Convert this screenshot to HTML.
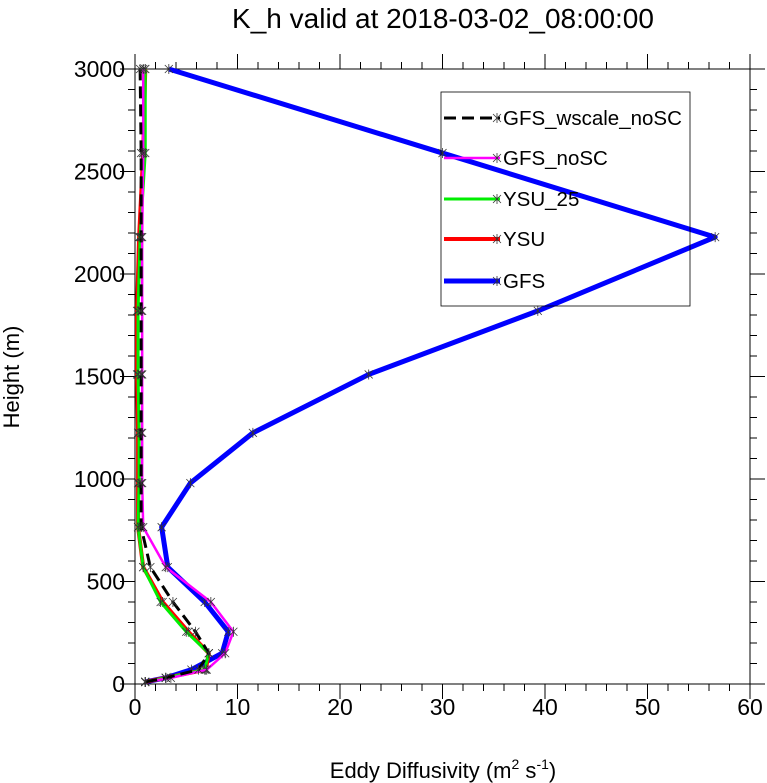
<!DOCTYPE html>
<html><head><meta charset="utf-8"><style>
html,body{margin:0;padding:0;background:#fff}
svg{display:block;font-family:"Liberation Sans",sans-serif}
</style></head><body>
<svg id="chart" width="767" height="783" viewBox="0 0 767 783">
<text x="443" y="28" font-size="28" text-anchor="middle">K_h valid at 2018-03-02_08:00:00</text>
<g id="axes"></g>
<g id="series"></g>
<text x="443" y="778" font-size="22" text-anchor="middle">Eddy Diffusivity (m<tspan font-size="14" dy="-9">2</tspan><tspan dy="9"> s</tspan><tspan font-size="14" dy="-9">-1</tspan><tspan dy="9">)</tspan></text>
<text transform="translate(19,377) rotate(-90)" font-size="22" text-anchor="middle">Height (m)</text>
<g id="legend"></g>
</svg>
<script>
const heights = [10, 30, 70, 150, 255, 400, 570, 765, 980, 1225, 1510, 1820, 2180, 2590, 3000];
const gfs = [1.0, 3.0, 5.5, 8.5, 9.1, 6.8, 3.2, 2.6, 5.4, 11.5, 22.8, 39.3, 56.6, 30.0, 3.3];
const gfsNoSC = [1.0, 3.5, 7.0, 8.8, 9.6, 7.4, 3.0, 0.8, 0.7, 0.7, 0.7, 0.7, 0.7, 0.8, 0.8];
const gfsWscale = [1.0, 3.0, 6.2, 7.2, 5.9, 3.7, 1.5, 0.6, 0.6, 0.6, 0.6, 0.6, 0.6, 0.6, 0.5];
const ysu25 = [1.0, 3.0, 6.8, 7.2, 5.0, 2.5, 0.8, 0.3, 0.4, 0.4, 0.3, 0.3, 0.5, 1.0, 1.0];
const ysu = [1.0, 3.0, 6.9, 7.2, 5.2, 2.7, 0.8, 0.3, 0.3, 0.3, 0.2, 0.2, 0.4, 0.8, 1.0];
const xTicks = [0, 10, 20, 30, 40, 50, 60];
const yTicks = [0, 500, 1000, 1500, 2000, 2500, 3000];
const seriesNames = ["GFS_wscale_noSC", "GFS_noSC", "YSU_25", "YSU", "GFS"];

const L=135,R=750,T=69,B=684;
const xs=v=>L+(v-0)/(60-0)*(R-L);
const ys=v=>B-(v-0)/(3000-0)*(B-T);
const NS="http://www.w3.org/2000/svg";
function mk(tag,parent){const e=document.createElementNS(NS,tag);parent.appendChild(e);return e;}
const axes=document.getElementById('axes');
const fr=mk('rect',axes);
fr.setAttribute('x',L);fr.setAttribute('y',T);fr.setAttribute('width',R-L);fr.setAttribute('height',B-T);
fr.setAttribute('fill','none');fr.setAttribute('stroke','#000');fr.setAttribute('stroke-width','1');


let tp='';
for(let v=0;v<=60;v+=2){const x=xs(v);const len=(v%10===0)?15:7;tp+=`M${x},${B}v${len}M${x},${T}v${-len}`;}
for(let v=0;v<=3000;v+=100){const y=ys(v);const len=(v%500===0)?15:7;tp+=`M${L},${y}h${-len}M${R},${y}h${len}`;}
const tk=mk('path',axes);tk.setAttribute('d',tp);tk.setAttribute('stroke','#000');tk.setAttribute('stroke-width','1');


xTicks.forEach(v=>{const t=mk('text',axes);t.setAttribute('x',xs(v));t.setAttribute('y',715);t.setAttribute('font-size','23');t.setAttribute('text-anchor','middle');t.textContent=v;

});
yTicks.forEach(v=>{const t=mk('text',axes);t.setAttribute('x',125);t.setAttribute('y',ys(v)+8);t.setAttribute('font-size','23');t.setAttribute('text-anchor','end');t.textContent=v;

});

const styles=[
 {d:gfsWscale,c:'#000',w:3,dash:'12 6',n:'series-gfs-wscale-nosc'},
 {d:gfsNoSC,c:'#ff00ff',w:2.5,dash:'',n:'series-gfs-nosc'},
 {d:ysu25,c:'#00ee00',w:3,dash:'',n:'series-ysu-25'},
 {d:ysu,c:'#ff0000',w:4,dash:'',n:'series-ysu'},
 {d:gfs,c:'#0000ff',w:5,dash:'',n:'series-gfs'}];
const order=[4,3,2,1,0];
const sg=document.getElementById('series');
function marker(g,x,y){const m=mk('path',g);m.setAttribute('d',`M${x-4},${y-4}L${x+4},${y+4}M${x+4},${y-4}L${x-4},${y+4}M${x},${y-5}v10`);m.setAttribute('stroke','#333');m.setAttribute('stroke-width','0.8');

}
order.forEach(i=>{const s=styles[i];const g=mk('g',sg);


const p=mk('polyline',g);p.setAttribute('points',s.d.map((v,j)=>xs(v)+','+ys(heights[j])).join(' '));
p.setAttribute('fill','none');p.setAttribute('stroke',s.c);p.setAttribute('stroke-width',s.w);p.setAttribute('stroke-linejoin','round');
if(s.dash)p.setAttribute('stroke-dasharray',s.dash);


s.d.forEach((v,j)=>marker(g,xs(v),ys(heights[j])));});

const lg=document.getElementById('legend');


const lb=mk('rect',lg);lb.setAttribute('x',441);lb.setAttribute('y',92);lb.setAttribute('width',249);lb.setAttribute('height',214);
lb.setAttribute('fill','none');lb.setAttribute('stroke','#000');lb.setAttribute('stroke-width','0.8');


const ly=[118,158,199,239,281];
seriesNames.forEach((n,i)=>{const s=styles[i];const g=mk('g',lg);


const l=mk('line',g);l.setAttribute('x1',444);l.setAttribute('x2',500);l.setAttribute('y1',ly[i]);l.setAttribute('y2',ly[i]);
l.setAttribute('stroke',s.c);l.setAttribute('stroke-width',s.w);if(s.dash)l.setAttribute('stroke-dasharray',s.dash);
marker(g,497,ly[i]);
const t=mk('text',g);t.setAttribute('x',503);t.setAttribute('y',ly[i]+7);t.setAttribute('font-size','20.5');t.textContent=n;

});
</script>
</body></html>
